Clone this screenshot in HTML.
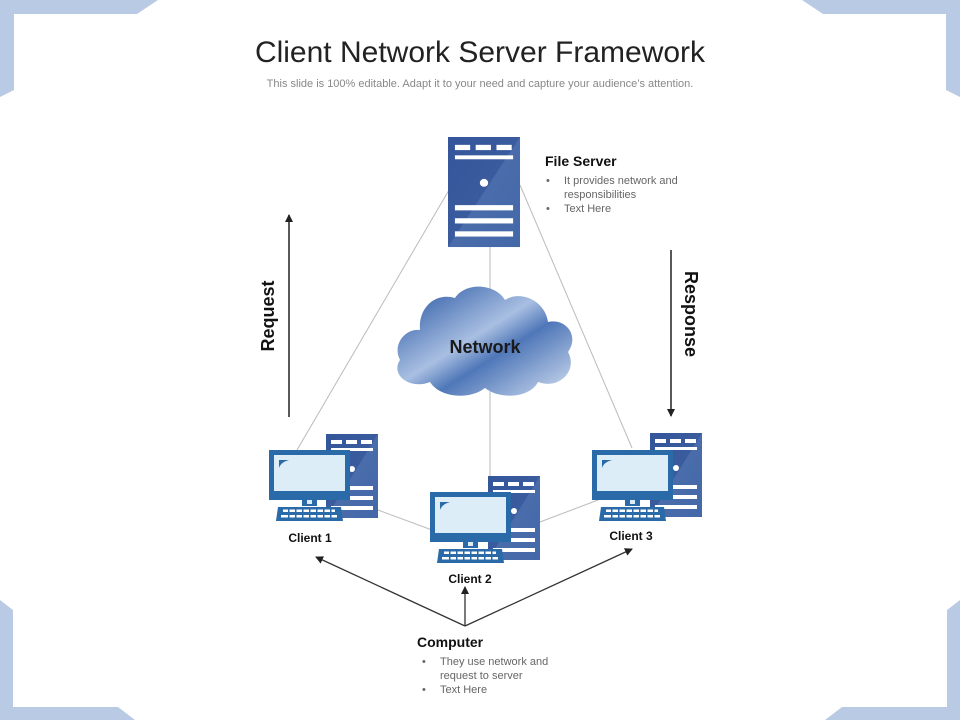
<!DOCTYPE html>
<html><head><meta charset="utf-8"><style>
body{margin:0;width:960px;height:720px;overflow:hidden;background:#fff;font-family:"Liberation Sans",sans-serif}
</style></head><body>
<svg width="960" height="720" viewBox="0 0 960 720" xmlns="http://www.w3.org/2000/svg" font-family="Liberation Sans, sans-serif">
<defs>
<linearGradient id="sg" x1="0" y1="0" x2="1" y2="1"><stop offset="0" stop-color="#34559a"/><stop offset="0.5" stop-color="#3a5c9e"/><stop offset="0.5" stop-color="#4a6cab"/><stop offset="1" stop-color="#4368a8"/></linearGradient>
<linearGradient id="cg" x1="0" y1="0" x2="1" y2="1"><stop offset="0" stop-color="#1f4f9e"/><stop offset="0.45" stop-color="#a9bfe2"/><stop offset="0.6" stop-color="#4f77b8"/><stop offset="1" stop-color="#d4e0f2"/></linearGradient>
<marker id="ah" markerWidth="8" markerHeight="8" refX="7" refY="4" orient="auto" markerUnits="userSpaceOnUse"><path d="M0,0 L8,4 L0,8 Z" fill="#222"/></marker>
<g id="srv"><rect x="0" y="0" width="52" height="84" fill="url(#sg)"/>
<rect x="5" y="6" width="11" height="4" fill="#fff"/><rect x="20" y="6" width="11" height="4" fill="#fff"/><rect x="35" y="6" width="11" height="4" fill="#fff"/>
<rect x="5" y="14" width="42" height="3" fill="#fff"/><circle cx="26" cy="35" r="3" fill="#fff"/>
<rect x="5" y="52" width="42" height="4" fill="#fff"/><rect x="5" y="62" width="42" height="4" fill="#fff"/><rect x="5" y="72" width="42" height="4" fill="#fff"/></g>
<g id="mon"><rect x="0" y="0" width="81" height="50" fill="#2b6aa8"/><rect x="5" y="5" width="71" height="36" fill="#dcedf8"/>
<path d="M10,10 L20,10 Q12,12 10,18 Z" fill="#2b6aa8"/>
<rect x="33" y="50" width="15" height="6" fill="#2b6aa8"/><rect x="38" y="50" width="5" height="4" fill="#dcedf8"/>
<path d="M9,57 L72,57 L74,71 L7,71 Z" fill="#2b6aa8"/>
<g fill="#fff"><rect x="14" y="59.5" width="52" height="2.5"/><rect x="12" y="65" width="56" height="2.5"/></g>
<g fill="#2b6aa8"><rect x="19" y="59" width="1.5" height="9"/><rect x="26" y="59" width="1.5" height="9"/><rect x="33" y="59" width="1.5" height="9"/><rect x="40" y="59" width="1.5" height="9"/><rect x="47" y="59" width="1.5" height="9"/><rect x="54" y="59" width="1.5" height="9"/><rect x="61" y="59" width="1.5" height="9"/></g></g>
</defs>
<g fill="#b9cbe4">
<path d="M0,0 L158,0 L137,14 L14,14 L14,90 L0,97 Z"/>
<path d="M960,0 L802,0 L823,14 L946,14 L946,90 L960,97 Z"/>
<path d="M0,600 L13,610 L13,707 L118,707 L135,720 L0,720 Z"/>
<path d="M960,600 L947,610 L947,707 L842,707 L825,720 L960,720 Z"/>
</g>
<text x="480" y="62" text-anchor="middle" font-size="30" fill="#222">Client Network Server Framework</text>
<text x="480" y="87" text-anchor="middle" font-size="11" fill="#888">This slide is 100% editable. Adapt it to your need and capture your audience’s attention.</text>
<g stroke="#bbb" stroke-width="1" fill="none">
<line x1="449" y1="190" x2="297" y2="450"/><line x1="520" y1="185" x2="632" y2="448"/>
<line x1="490" y1="247" x2="490" y2="480"/><line x1="378" y1="510" x2="432" y2="530"/><line x1="540" y1="522" x2="598" y2="500"/>
</g>
<g transform="translate(448,137) scale(1.385,1.31)"><use href="#srv"/></g>
<use href="#srv" x="326" y="434"/><use href="#srv" x="488" y="476"/><use href="#srv" x="650" y="433"/>
<use href="#mon" x="269" y="450"/><use href="#mon" x="430" y="492"/><use href="#mon" x="592" y="450"/>
<path d="M420,330 C405,328 392,345 400,360 C390,375 410,390 430,382 C440,398 470,400 485,388 C500,400 530,398 538,382 C560,390 578,370 568,352 C580,335 565,318 548,322 C545,300 520,290 505,300 C495,283 465,282 455,298 C435,292 418,308 420,330 Z" fill="url(#cg)"/>
<text x="485" y="353" text-anchor="middle" font-size="18" font-weight="bold" fill="#1a1a1a">Network</text>
<text x="545" y="166" font-size="14" font-weight="bold" fill="#111">File Server</text>
<g font-size="11" fill="#666"><text x="546" y="184">•</text><text x="564" y="184">It provides network and</text><text x="564" y="198">responsibilities</text><text x="546" y="212">•</text><text x="564" y="212">Text Here</text></g>
<line x1="289" y1="417" x2="289" y2="215" stroke="#222" stroke-width="1.5" marker-end="url(#ah)"/>
<line x1="671" y1="250" x2="671" y2="416" stroke="#222" stroke-width="1.5" marker-end="url(#ah)"/>
<text transform="translate(274,316) rotate(-90)" text-anchor="middle" font-size="18" font-weight="bold" fill="#111">Request</text>
<text transform="translate(685,314) rotate(90)" text-anchor="middle" font-size="18" font-weight="bold" fill="#111">Response</text>
<g font-size="12" font-weight="bold" fill="#111" text-anchor="middle"><text x="310" y="542">Client 1</text><text x="470" y="583">Client 2</text><text x="631" y="540">Client 3</text></g>
<g stroke="#333" stroke-width="1.3" fill="none">
<line x1="465" y1="626" x2="316" y2="557" marker-end="url(#ah)"/>
<line x1="465" y1="626" x2="465" y2="587" marker-end="url(#ah)"/>
<line x1="465" y1="626" x2="632" y2="549" marker-end="url(#ah)"/>
</g>
<text x="417" y="647" font-size="14" font-weight="bold" fill="#111">Computer</text>
<g font-size="11" fill="#666"><text x="422" y="665">•</text><text x="440" y="665">They use network and</text><text x="440" y="679">request to server</text><text x="422" y="693">•</text><text x="440" y="693">Text Here</text></g>
</svg>
</body></html>
